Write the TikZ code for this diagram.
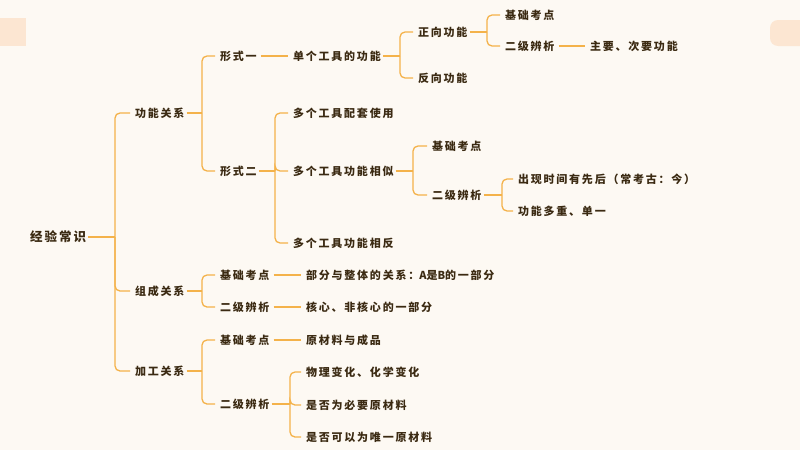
\documentclass[tikz,border=0pt]{standalone}
\usepackage{fontspec}
\setmainfont{Noto Sans CJK SC}[LetterSpace=16]
\definecolor{bg}{HTML}{FDF9F3}
\definecolor{peach}{HTML}{FCE6D2}
\definecolor{ln}{HTML}{F4B24A}
\definecolor{tx}{HTML}{3B2A12}
\begin{document}
\begin{tikzpicture}[x=1pt,y=-1pt,
  t/.style={anchor=west,inner sep=2pt,text=tx,font=\fontsize{11}{13}\selectfont\bfseries},
  lnk/.style={draw=ln,line width=1.3pt}]
\fill[bg] (0,0) rectangle (800,450);
\useasboundingbox (0,0) rectangle (800,450);
\fill[peach] (0,18) rectangle (26,46);
\fill[peach,rounded corners=8pt] (770,20) rectangle (812,46);
\newcommand{\mybr}[3]{%
  \draw[lnk] (#1.east) -- (#1.east -| #2);
  \foreach \c in {#3} \draw[lnk,rounded corners=5pt] (#1.east -| #2) |- ([xshift=-3pt]\c.west);}
\newcommand{\mylk}[2]{\draw[lnk] ([xshift=2pt]#1.east) -- ([xshift=-3pt]#2.west);}
\node[t,font=\fontsize{12.5}{14}\selectfont\bfseries] (root) at (28,237) {经验常识};
\node[t] (gn) at (133,113) {功能关系};
\node[t] (zc) at (133,291) {组成关系};
\node[t] (jg) at (133,371) {加工关系};
\node[t] (xs1) at (218,56) {形式一};
\node[t] (xs2) at (218,171) {形式二};
\node[t] (dg) at (291,56) {单个工具的功能};
\node[t] (zx) at (416,32) {正向功能};
\node[t] (fx) at (416,78) {反向功能};
\node[t] (jc1) at (503,15) {基础考点};
\node[t] (ej1) at (503,46) {二级辨析};
\node[t] (zy) at (588,46) {主要、次要功能};
\node[t] (pt) at (291,113) {多个工具配套使用};
\node[t] (xsi) at (291,171) {多个工具功能相似};
\node[t] (xf) at (291,243) {多个工具功能相反};
\node[t] (jc2) at (430,146) {基础考点};
\node[t] (ej2) at (430,195) {二级辨析};
\node[t] (cx) at (516,179) {出现时间有先后（常考古：今）};
\node[t] (dc) at (516,211) {功能多重、单一};
\node[t] (jc3) at (218,275) {基础考点};
\node[t] (ej3) at (218,307) {二级辨析};
\node[t] (bf) at (304,275) {部分与整体的关系：{\addfontfeature{LetterSpace=0}A是B}的一部分};
\node[t] (hx) at (304,307) {核心、非核心的一部分};
\node[t] (jc4) at (218,340) {基础考点};
\node[t] (ej4) at (218,404) {二级辨析};
\node[t] (yc) at (304,340) {原材料与成品};
\node[t] (wl) at (304,372) {物理变化、化学变化};
\node[t] (sf) at (304,405) {是否为必要原材料};
\node[t] (wy) at (304,437) {是否可以为唯一原材料};
\coordinate (s0) at (115,0);
\coordinate (s1) at (202,0);
\coordinate (s2) at (400,0);
\coordinate (s3) at (487,0);
\coordinate (s4) at (275,0);
\coordinate (s5) at (413,0);
\coordinate (s6) at (502,0);
\coordinate (s7) at (290,0);
\mybr{root}{s0}{gn,zc,jg}
\mybr{gn}{s1}{xs1,xs2}
\mybr{dg}{s2}{zx,fx}
\mybr{zx}{s3}{jc1,ej1}
\mybr{xs2}{s4}{pt,xsi,xf}
\mybr{xsi}{s5}{jc2,ej2}
\mybr{ej2}{s6}{cx,dc}
\mybr{zc}{s1}{jc3,ej3}
\mybr{jg}{s1}{jc4,ej4}
\mybr{ej4}{s7}{wl,sf,wy}
\mylk{xs1}{dg}
\mylk{ej1}{zy}
\mylk{jc3}{bf}
\mylk{ej3}{hx}
\mylk{jc4}{yc}
\end{tikzpicture}
\end{document}
